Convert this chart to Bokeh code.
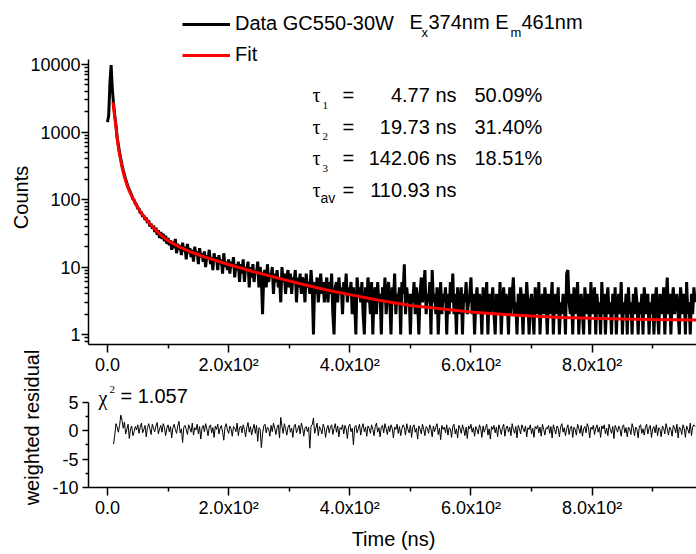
import math
from bokeh.plotting import figure
from bokeh.models import (Label, Legend, LegendItem, FixedTicker, Range1d,
                          LinearAxis, LinearScale)
from bokeh.embed import file_html
from bokeh.resources import INLINE

FONT = "Liberation Sans"
SERIF = "Liberation Serif"

# ---------------- data ----------------
decay_time_ns = list(range(0, 40, 2)) + list(range(40, 972, 2))
decay_counts = (
    [1400, 1750, 5200, 9800, 4300, 2600, 1780, 1250, 830, 640,
     490, 400, 325, 270, 232, 200, 176, 152, 141, 127]
    + [116, 101, 99, 86, 85, 73, 74, 63, 65, 56]
    + [58, 50, 54, 45, 49, 40, 44, 37, 41, 33]
    + [38, 30, 35, 27, 33, 26, 31, 24, 29, 22]
    + [27, 21, 25, 18, 24, 19, 26, 16, 22, 18]
    + [21, 15, 23, 17, 20, 13, 22, 16, 19, 14]
    + [18, 12, 20, 15, 17, 11, 19, 14, 16, 12]
    + [17, 10, 15, 13, 18, 11, 14, 9, 16, 12]
    + [14, 9, 15, 11, 13, 8, 16, 10, 12, 9]
    + [13, 8, 12, 10, 14, 7, 11, 9, 12, 6]
    + [11, 8, 13, 6, 10, 9, 12, 5, 10, 7]
    + [11, 6, 9, 8, 12, 5, 10, 7, 2, 8]
    + [9, 5, 11, 6, 8, 7, 10, 4, 8, 6]
    + [9, 5, 7, 3, 10, 6, 8, 4, 7, 9]
    + [5, 8, 4, 7, 6, 9, 3, 7, 5, 8]
    + [4, 7, 6, 3, 8, 5, 6, 4, 9, 5]
    + [1, 6, 4, 7, 3, 5, 8, 4, 6, 3]
    + [5, 7, 3, 6, 4, 8, 2, 1, 5, 6]
    + [3, 7, 4, 5, 2, 6, 4, 8, 3, 5]
    + [4, 6, 2, 5, 3, 1, 7, 4, 5, 3]
    + [6, 2, 1, 5, 3, 7, 4, 2, 6, 1]
    + [4, 5, 2, 6, 3, 4, 1, 5, 3, 7]
    + [2, 4, 6, 3, 1, 5, 3, 8, 2, 4]
    + [3, 5, 1, 6, 4, 11, 2, 5, 3, 4]
    + [1, 4, 3, 6, 2, 5, 3, 1, 4, 7]
    + [3, 5, 9, 2, 4, 3, 6, 1, 9, 3]
    + [4, 2, 5, 1, 3, 6, 2, 4, 3, 5]
    + [1, 4, 2, 6, 3, 8, 2, 4, 1, 5]
    + [3, 2, 5, 1, 4, 3, 6, 2, 3, 4]
    + [7, 2, 4, 1, 3, 5, 2, 4, 3, 1]
    + [5, 2, 3, 6, 1, 4, 2, 3, 5, 2]
    + [1, 4, 3, 2, 6, 1, 3, 5, 2, 4]
    + [3, 1, 5, 2, 4, 7, 2, 3, 1, 4]
    + [2, 5, 3, 1, 4, 2, 6, 3, 1, 3]
    + [4, 2, 1, 5, 3, 2, 6, 1, 3, 4]
    + [2, 5, 3, 1, 4, 2, 3, 6, 1, 3]
    + [4, 2, 5, 1, 3, 2, 4, 3, 1, 8]
    + [9, 3, 2, 4, 1, 5, 2, 3, 6, 1]
    + [3, 4, 2, 1, 5, 3, 2, 4, 1, 6]
    + [2, 3, 5, 1, 4, 2, 3, 1, 6, 2]
    + [4, 1, 3, 5, 2, 3, 1, 4, 2, 5]
    + [1, 3, 4, 2, 6, 1, 3, 2, 4, 1]
    + [5, 2, 3, 1, 4, 2, 5, 3, 1, 3]
    + [2, 4, 1, 5, 3, 2, 4, 1, 3, 2]
    + [4, 1, 3, 5, 2, 1, 4, 3, 2, 5]
    + [1, 3, 7, 2, 4, 1, 3, 5, 2, 3]
    + [4, 2, 1, 5, 3, 2, 4, 1, 6, 2]
    + [3, 1, 4, 2, 5, 3]
)

fit_time_ns = [9, 10, 12, 14, 16, 18, 20, 24, 28, 32, 36, 40, 50, 60, 70, 80, 90, 100,
               120, 140, 160, 180, 200, 240, 280, 320, 360, 400, 450, 500, 550, 600,
               650, 700, 750, 800, 850, 900, 972]
fit_counts = [2760, 2342, 1650, 1184, 780, 590, 460, 300, 215, 165, 133, 112, 76, 56,
              43.9, 34.8, 28.7, 24.6, 19.5, 16.4, 14.1, 12.4, 10.9, 8.6, 6.9, 5.6, 4.6,
              3.9, 3.2, 2.7, 2.4, 2.16, 1.99, 1.88, 1.79, 1.74, 1.70, 1.67, 1.64]

resid_time_ns = list(range(10, 972, 2))
weighted_residual = (
    [-2.4, -0.8, 1.2, 0.6, -0.3, 0.9, 2.7, 1.8, 0.4, 1.5, -0.6, 0.2, 1.1, -1.4, 0.3, 0.8, -0.9, -0.2, 0.7, 0.1]
    + [1.0, -0.5, 0.6, 1.3, -0.4, 0.2, 0.9, -1.1, 0.5, 1.2, 0.3, -0.7, 1.1, 0.4, -0.2, 0.8, 1.4, -0.6, 0.3, 0.9]
    + [-0.3, 1.2, 0.6, -0.9, 0.4, 1.0, -0.2, 0.7, -1.3, 0.5, 1.1, 0.2, -0.5, 0.8, 1.6, -0.4, 0.3, -2.1, 0.6, 0.9]
    + [0.2, -0.7, 1.0, 0.4, -0.3, 1.3, -0.8, 0.5, 0.1, 1.1, -0.6, 0.7, -1.5, 0.4, 0.9, -0.2, 1.2, 0.3, -0.9, 0.6]
    + [1.0, -0.4, 0.5, -1.2, 0.8, 0.2, 1.1, -0.6, 0.4, 0.9, -0.3, -1.7, 0.6, 1.2, 0.1, -0.5, 0.8, 0.3, -1.0, 0.7]
    + [0.4, -0.2, 1.3, -0.9, 0.5, 0.8, -0.4, 1.0, 0.2, -1.1, 0.6, 1.4, -0.3, 0.7, -0.8, 0.3, 1.1, -0.5, 0.9, -1.9]
    + [0.5, 0.2, -3.0, -0.6, 0.8, 1.1, -0.4, 0.6, 0.3, -1.0, 0.9, -0.2, 1.3, 0.4, -0.7, 0.5, 1.0, -1.3, 2.3, 0.7]
    + [-0.5, 1.2, 0.3, -0.8, 0.6, 1.0, -0.3, 0.4, -1.2, 0.8, 1.1, -0.4, 0.2, 0.9, -0.6, 1.3, 0.5, -1.0, 0.4, 0.7]
    + [-0.2, 0.6, -3.1, 0.8, 1.0, 2.2, -0.5, 0.4, 1.3, -0.9, 0.7, 0.2, -0.6, 1.1, 0.5, -1.2, 0.3, 0.9, -0.4, 0.6]
    + [1.0, -0.7, 0.4, 1.2, -0.3, 0.8, -1.1, 0.5, 0.2, 1.0, -0.6, 0.9, 0.3, -1.4, 0.7, 1.1, -0.2, 0.4, -2.5, 0.6]
    + [0.9, -0.4, 0.3, 1.1, -0.8, 0.5, 1.2, -0.2, 0.6, -1.0, 0.8, 0.4, -0.5, 1.0, 0.2, -0.9, 0.7, 1.3, -0.3, 0.5]
    + [-1.1, 0.6, 0.9, -0.4, 1.2, 0.3, -0.7, 0.8, -0.2, 1.0, 0.4, -1.3, 0.6, 0.2, 1.1, -0.5, 0.7, -0.9, 0.3, 1.0]
    + [0.5, -0.8, 1.2, 0.2, -0.4, 0.9, -1.2, 0.6, 1.0, -0.3, 0.4, -1.5, 0.8, 0.3, -0.6, 1.1, 0.2, -0.9, 0.7, 0.4]
    + [-0.5, 1.0, 0.3, -1.1, 0.8, -0.2, 0.6, 1.2, -0.7, 0.4, -1.6, 0.9, 0.2, 0.6, -0.4, 1.0, -0.8, 0.5, 0.3, -1.2]
    + [0.7, 1.1, -0.6, 0.3, -1.3, 0.9, 0.4, -0.5, 1.0, 0.2, -0.9, 0.6, -1.4, 0.8, 0.3, 1.1, -0.3, 0.5, -1.0, 0.7]
    + [0.2, -0.6, 1.0, 0.4, -1.2, 0.8, -0.3, 0.5, 1.1, -0.8, 0.3, -1.5, 0.7, 0.2, 0.9, -0.4, 0.6, -1.1, 1.0, 0.3]
    + [-0.7, 0.5, 1.1, -1.0, 0.4, 0.8, -0.3, 0.6, -0.9, 1.2, 0.2, -0.5, 0.7, -1.3, 0.9, 0.3, -0.6, 1.0, 0.4, -0.2]
    + [0.8, -1.1, 0.5, 0.2, 1.0, -0.6, 0.4, -1.2, 0.7, 0.3, 0.9, -0.4, 0.6, -1.0, 1.1, 0.2, -0.8, 0.5, 0.3, 0.9]
    + [-0.5, 0.7, -1.3, 1.0, 0.2, -0.6, 0.8, 0.4, -1.1, 0.6, 1.2, -0.3, 0.5, -0.9, 0.3, 1.0, -0.7, 0.4, 0.8, -1.2]
    + [0.6, 0.2, -0.8, 1.1, 0.4, -0.5, 0.9, -1.0, 0.3, 0.7, -0.4, 1.2, 0.5, -1.3, 0.6, 0.2, 0.9, -0.7, 0.4, 1.0]
    + [-0.3, 0.6, -1.2, 0.8, 0.3, 1.0, -0.6, 0.4, -0.9, 1.1, 0.2, -0.5, 0.7, -1.4, 0.9, 0.4, -0.3, 0.8, 0.2, -1.0]
    + [0.7, 1.0, -0.4, 0.5, -1.1, 0.6, 0.3, -0.7, 1.2, 0.4, -0.9, 0.6, 0.2, -1.3, 0.8, 1.0, -0.5, 0.3, -0.8, 0.6]
    + [1.1, -0.6, 0.4, 0.9, -1.2, 0.3, 0.7, -0.4, 1.0, -0.9, 0.5, 0.2, -1.1, 0.8, 0.4, -0.6, 1.2, 0.3, -0.8, 0.6]
    + [0.2, -1.0, 0.9, 0.5, -0.4, 1.1, -1.3, 0.6, 0.3, -0.7, 1.0, 0.4, -1.2, 0.8, 0.2, -0.5, 1.3, -0.9, 0.6, 1.0]
    + [0.7]
)

tau_names = ["1", "2", "3", "av"]
tau_values_ns = [4.77, 19.73, 142.06, 110.93]
tau_fractions_pct = [50.09, 31.40, 18.51]
chi_squared = 1.057

x_major_ticks = [0, 200, 400, 600, 800]
x_minor_ticks = [100, 300, 500, 700, 900]
x_tick_labels = ["0.0", "2.0x10\u00b2", "4.0x10\u00b2", "6.0x10\u00b2", "8.0x10\u00b2"]
y_major_ticks = [1, 10, 100, 1000, 10000]
y_tick_labels = ["1", "10", "100", "1000", "10000"]
y_minor_ticks = [0.8, 0.9] + [m * 10 ** e for e in range(0, 4) for m in range(2, 10)]
r_major_ticks = [-10, -5, 0, 5]
r_minor_ticks = [-7.5, -2.5, 2.5]
r_tick_labels = ["-10", "-5", "0", "5"]

# ---------------- geometry (one canvas, frame = whole canvas) ----------------
W, H = 696, 554
X_VIEW = (-176.6, 972.3)            # time range across the whole canvas
X_AXIS_AT = -31.36                  # where both vertical axes sit
Y_VIEW = (0.000551, 88750)          # counts (log) across the whole canvas
Y_AXIS = (0.711, 11860)             # drawn extent of the counts axis
R_VIEW = (-21.75, 75.44)            # residual range across the whole canvas
R_AXIS = (-10, 5)                   # drawn extent of the residual axis
BASELINE_FIX = 0.36                 # label baseline correction (fraction of font size)


def style_axis(ax, tick_out=8, minor_out=4, standoff=2):
    ax.axis_line_width = 1.5
    ax.axis_line_color = "black"
    ax.major_tick_line_width = 1.5
    ax.minor_tick_line_width = 1.5
    ax.major_tick_line_color = "black"
    ax.minor_tick_line_color = "black"
    ax.major_tick_in = 0
    ax.minor_tick_in = 0
    ax.major_tick_out = tick_out
    ax.minor_tick_out = minor_out
    ax.major_label_text_font = FONT
    ax.major_label_text_font_size = "18px"
    ax.major_label_text_color = "black"
    ax.major_label_standoff = standoff


def add_label(fig, x, y, text, size=20, font=FONT, align="left", rotated=False):
    # x, y: page pixels (from top-left) of the text's baseline anchor
    fix = BASELINE_FIX * size
    if rotated:
        x, angle = x - fix, math.pi / 2
    else:
        y, angle = y - fix, 0.0
    fig.add_layout(Label(x=x, y=H - y, x_units="screen", y_units="screen", text=text,
                         text_font=font, text_font_size=f"{size}px", text_color="black",
                         text_align=align, text_baseline="alphabetic", angle=angle))


p = figure(width=W, height=H, y_axis_type="log",
           x_range=Range1d(*X_VIEW), y_range=Range1d(*Y_VIEW),
           output_backend="svg", toolbar_location=None,
           min_border_left=0, min_border_right=0, min_border_top=0, min_border_bottom=0)
p.extra_y_ranges = {"resid": Range1d(*R_VIEW)}
p.extra_y_scales = {"resid": LinearScale()}
p.outline_line_color = None
p.xgrid.visible = False
p.ygrid.visible = False

r_data = p.line(decay_time_ns, decay_counts, line_color="black", line_width=3)
r_fit = p.line(fit_time_ns, fit_counts, line_color="red", line_width=3)
p.line(resid_time_ns, weighted_residual, line_color="black", line_width=1,
       y_range_name="resid")

# counts axes
style_axis(p.xaxis[0], standoff=2)
p.xaxis.ticker = FixedTicker(ticks=x_major_ticks, minor_ticks=x_minor_ticks)
p.xaxis.major_label_overrides = dict(zip(x_major_ticks, x_tick_labels))
p.xaxis.fixed_location = Y_AXIS[0]
p.xaxis.bounds = (X_AXIS_AT, X_VIEW[1])

style_axis(p.yaxis[0], tick_out=7, minor_out=4, standoff=1)
p.yaxis.ticker = FixedTicker(ticks=y_major_ticks, minor_ticks=y_minor_ticks)
p.yaxis.major_label_overrides = dict(zip(y_major_ticks, y_tick_labels))
p.yaxis.fixed_location = X_AXIS_AT
p.yaxis.bounds = Y_AXIS

# residual axes
rx = LinearAxis(y_range_name="resid", fixed_location=R_AXIS[0], bounds=(X_AXIS_AT, X_VIEW[1]))
style_axis(rx, standoff=2)
rx.ticker = FixedTicker(ticks=x_major_ticks, minor_ticks=x_minor_ticks)
rx.major_label_overrides = dict(zip(x_major_ticks, x_tick_labels))
p.add_layout(rx, "below")

ry = LinearAxis(y_range_name="resid", fixed_location=X_AXIS_AT, bounds=R_AXIS)
style_axis(ry, tick_out=6, minor_out=3, standoff=4)
ry.ticker = FixedTicker(ticks=r_major_ticks, minor_ticks=r_minor_ticks)
ry.major_label_overrides = dict(zip(r_major_ticks, r_tick_labels))
p.add_layout(ry, "left")

# axis titles
add_label(p, 28, 197, "Counts", align="center", rotated=True)
add_label(p, 39, 427, "weighted residual", align="center", rotated=True)
add_label(p, 393, 546, "Time (ns)", align="center")

# legend
legend = Legend(items=[LegendItem(label="Data GC550-30W", renderers=[r_data]),
                       LegendItem(label="Fit", renderers=[r_fit])],
                location=(182, 488), padding=0, margin=0, spacing=8,
                glyph_width=48, glyph_height=22, label_height=22, label_standoff=5,
                label_text_font=FONT, label_text_font_size="20px", label_text_color="black",
                border_line_color=None, background_fill_alpha=0)
p.add_layout(legend)
add_label(p, 409, 29, "E")
add_label(p, 421, 36.5, "x", size=13)
add_label(p, 428, 29, "374nm E")
add_label(p, 510, 36.5, "m", size=13)
add_label(p, 521, 29, "461nm")

# lifetime annotations
row_base = [101.7, 133.3, 165.0, 196.7]
for i, name in enumerate(tau_names):
    b = row_base[i]
    add_label(p, 312, b, "\u03c4", size=20, font=SERIF)
    if name == "av":
        add_label(p, 320, b + 6, name, size=14)
    else:
        add_label(p, 322, b + 7, name, size=11, font=SERIF)
    add_label(p, 342, b, "=")
    add_label(p, 456, b, f"{tau_values_ns[i]:.2f} ns", align="right")
    if i < len(tau_fractions_pct):
        add_label(p, 474, b, f"{tau_fractions_pct[i]:.2f}%")

# chi-square
add_label(p, 98, 405, "\u03c7", size=20, font=SERIF)
add_label(p, 109, 393, "2", size=11, font=SERIF)
add_label(p, 120, 403, f"= {chi_squared:.3f}")

open("out.html", "w").write(file_html(p, INLINE))
